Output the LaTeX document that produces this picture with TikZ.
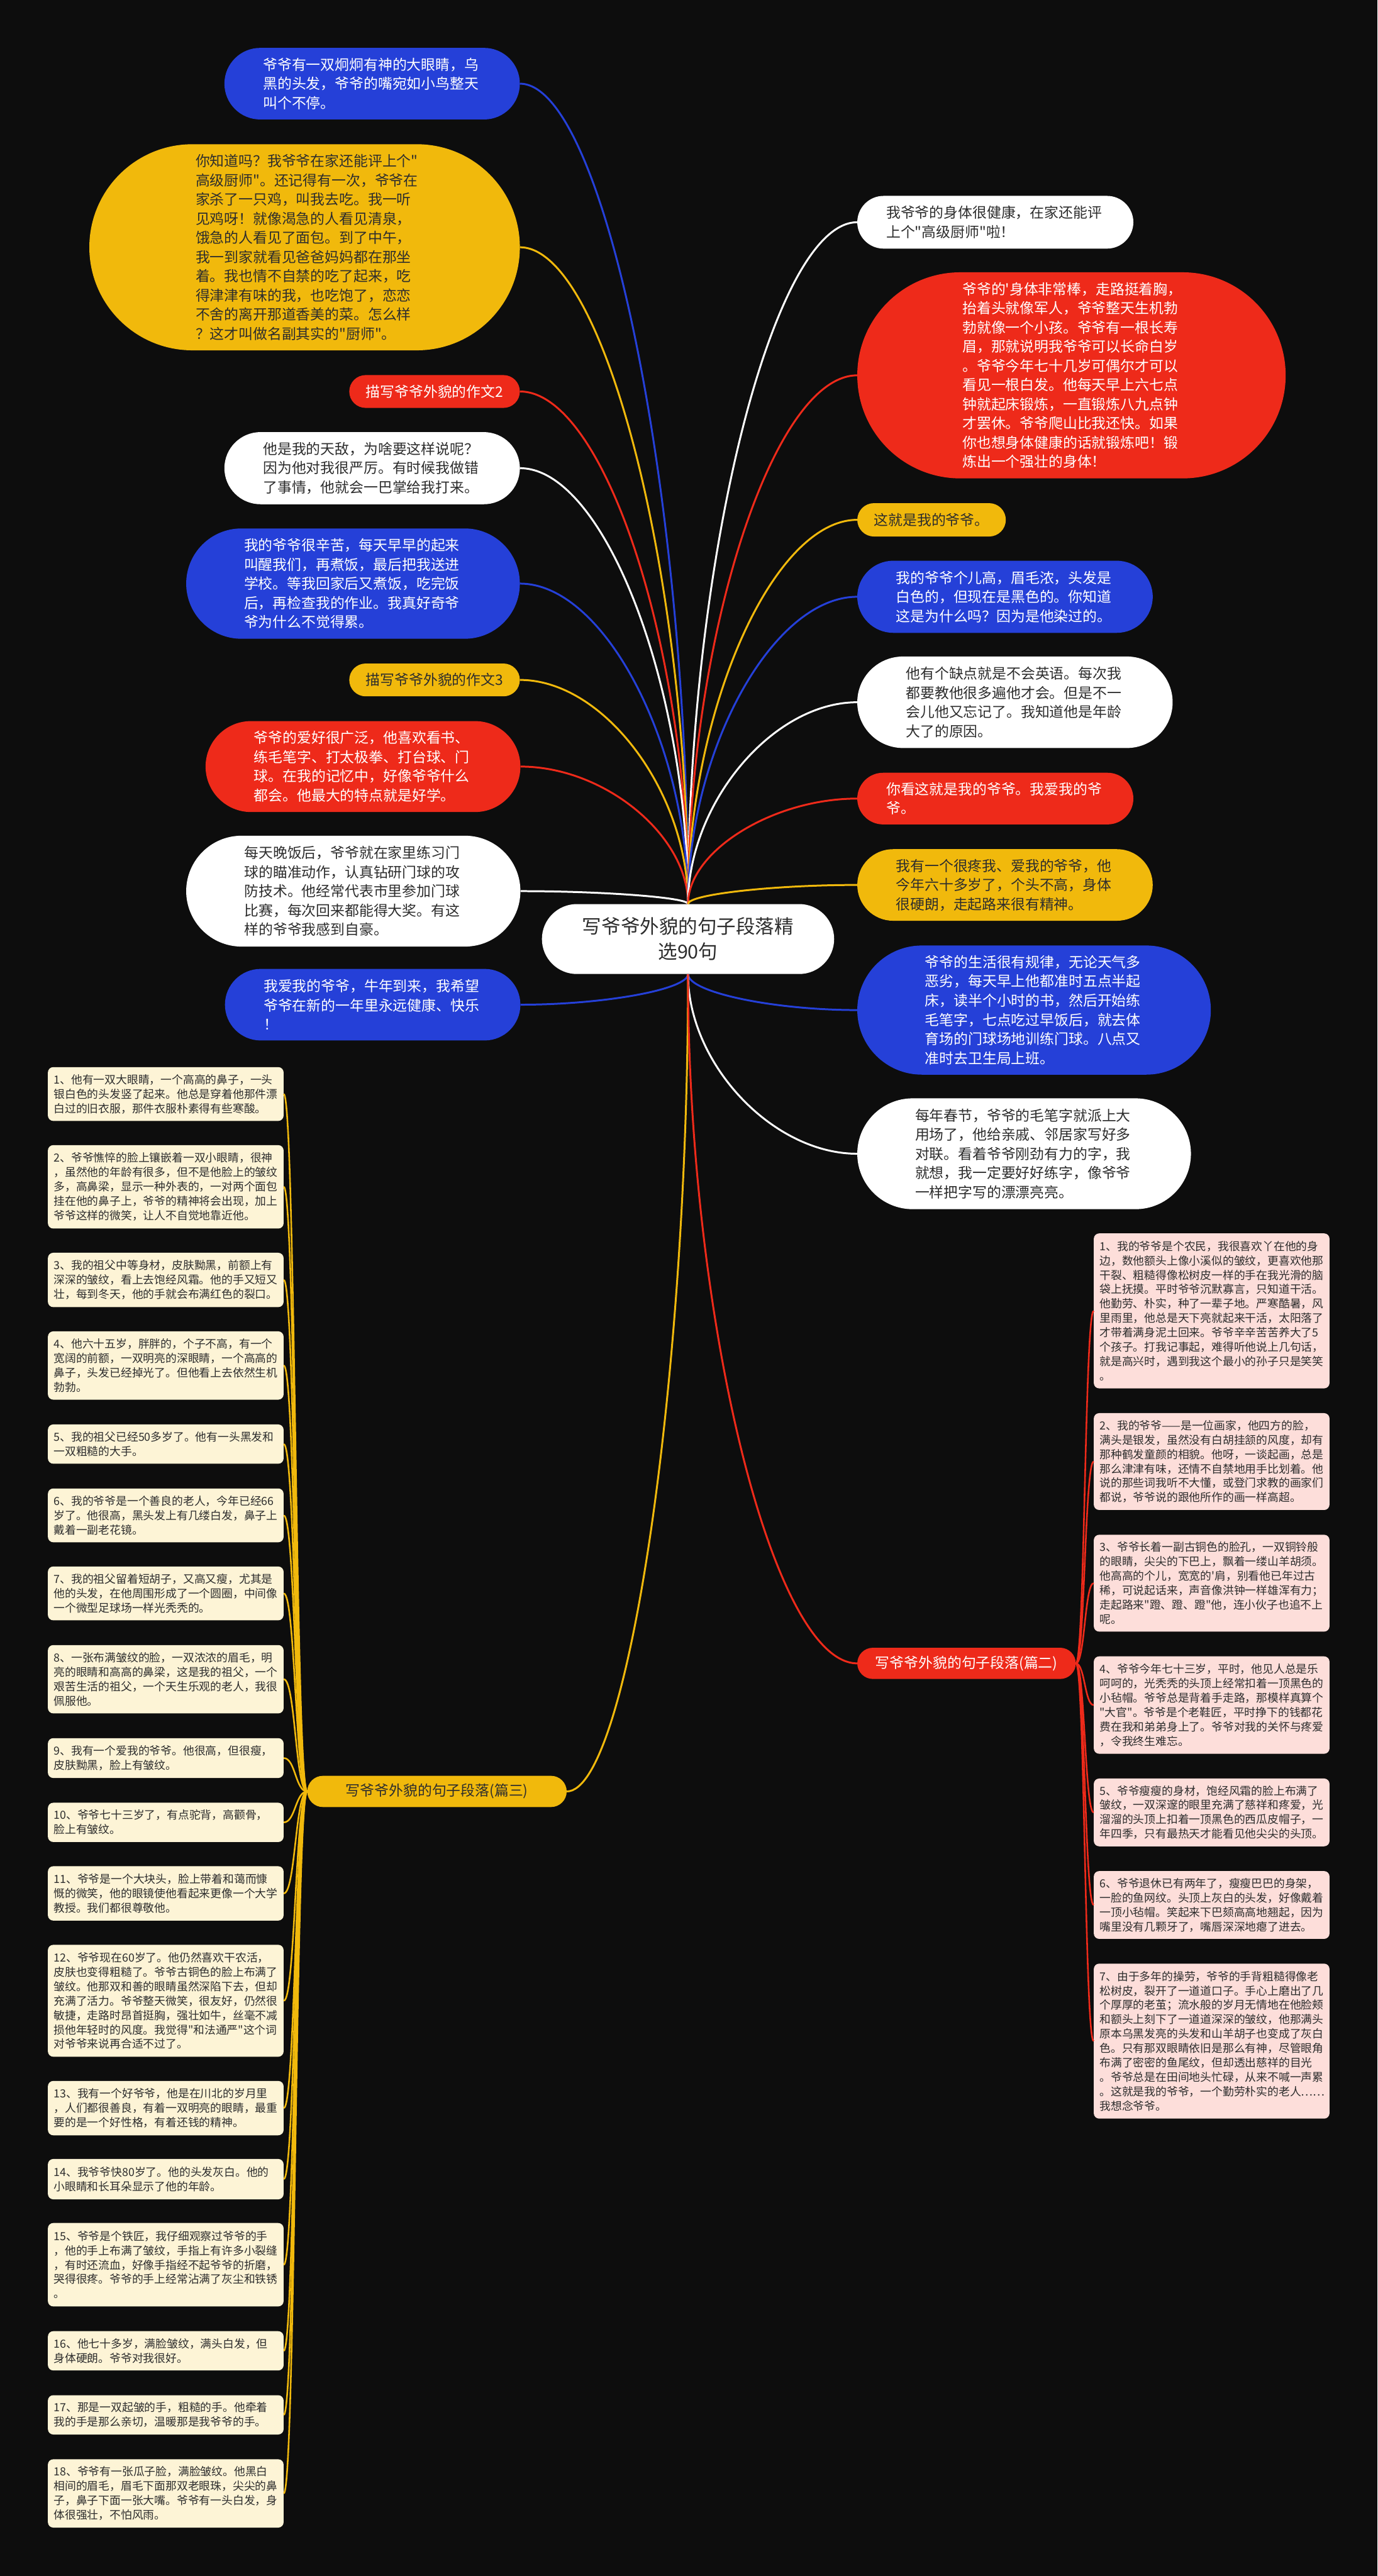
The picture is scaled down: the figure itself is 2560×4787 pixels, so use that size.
\documentclass[tikz,border=0pt]{standalone}
\usepackage{fontspec}
\setmainfont{Noto Sans CJK SC}[Ligatures=TeXOff]
\usetikzlibrary{calc}

\definecolor{mmbg}{RGB}{13,13,13}
\definecolor{mmblue}{RGB}{37,64,216}
\definecolor{mmred}{RGB}{238,42,26}
\definecolor{mmyellow}{RGB}{241,185,12}
\definecolor{mmink}{RGB}{45,45,45}
\definecolor{mmcream}{RGB}{253,244,214}
\definecolor{mmpink}{RGB}{253,222,218}

\tikzset{
  bubble/.style={rectangle, inner sep=0pt, align=left, font=\fontsize{26.7}{35.7}\selectfont},
  pillsize/.style 2 args={minimum width=#1, minimum height=#2, rounded corners=0.5*#2},
  textblock/.style={text width=405},
  bluebubble/.style={bubble, fill=mmblue, text=white},
  redbubble/.style={bubble, fill=mmred, text=white},
  yellowbubble/.style={bubble, fill=mmyellow, text=mmink},
  whitebubble/.style={bubble, fill=white, text=mmink},
  item/.style={rectangle, rounded corners=10pt, inner xsep=11pt, inner ysep=0pt, text width=416, align=left, text=mmink, font=\fontsize{20.8}{26.8}\selectfont},
  leftitem/.style={item, fill=mmcream},
  rightitem/.style={item, fill=mmpink},
  link/.style={line width=3.5pt},
  branch/.style={to path={.. controls ($(\tikztostart)!0.5!(\tikztostart |- \tikztotarget)$) and ($(\tikztotarget)!0.5!(\tikztotarget -| \tikztostart)$) .. (\tikztotarget)}},
  elbow/.style={to path={.. controls ($(\tikztostart)!0.5!(\tikztotarget |- \tikztostart)$) and ($(\tikztotarget)!0.5!(\tikztostart |- \tikztotarget)$) .. (\tikztotarget)}}
}

\begin{document}
\begin{tikzpicture}[x=1pt, y=-1pt]
    % Background
    \useasboundingbox (0,0) rectangle (2560,4787);
    \fill[mmbg] (0,0) rectangle (2560,4787);

    % Title
    \node[whitebubble, pillsize={543}{130}, align=center, font=\fontsize{35.7}{47}\selectfont] (root) at (1278.5,1745) {写爷爷外貌的句子段落精\\选90句};

    % Left branches
    \node[bluebubble, textblock, pillsize={549}{133}] (l1) at (691.5,155.5) {爷爷有一双炯炯有神的大眼睛，乌\\黑的头发，爷爷的嘴宛如小鸟整天\\叫个不停。};
    \node[yellowbubble, textblock, pillsize={800}{383}] (l2) at (566,459.5) {你知道吗？我爷爷在家还能评上个"\\高级厨师"。还记得有一次，爷爷在\\家杀了一只鸡，叫我去吃。我一听\\见鸡呀！就像渴急的人看见清泉，\\饿急的人看见了面包。到了中午，\\我一到家就看见爸爸妈妈都在那坐\\着。我也情不自禁的吃了起来，吃\\得津津有味的我，也吃饱了，恋恋\\不舍的离开那道香美的菜。怎么样\\？这才叫做名副其实的"厨师"。};
    \node[redbubble, pillsize={317}{61}] (l3) at (807.5,727.5) {描写爷爷外貌的作文2};
    \node[whitebubble, textblock, pillsize={549}{134}] (l4) at (691.5,870) {他是我的天敌，为啥要这样说呢？\\因为他对我很严厉。有时候我做错\\了事情，他就会一巴掌给我打来。};
    \node[bluebubble, textblock, pillsize={620}{205}] (l5) at (656,1084.5) {我的爷爷很辛苦，每天早早的起来\\叫醒我们，再煮饭，最后把我送进\\学校。等我回家后又煮饭，吃完饭\\后，再检查我的作业。我真好奇爷\\爷为什么不觉得累。};
    \node[yellowbubble, pillsize={317}{61}] (l6) at (807.5,1263.5) {描写爷爷外貌的作文3};
    \node[redbubble, textblock, pillsize={585}{169}] (l7) at (674.5,1424.5) {爷爷的爱好很广泛，他喜欢看书、\\练毛笔字、打太极拳、打台球、门\\球。在我的记忆中，好像爷爷什么\\都会。他最大的特点就是好学。};
    \node[whitebubble, textblock, pillsize={621}{206}] (l8) at (656.5,1656) {每天晚饭后，爷爷就在家里练习门\\球的瞄准动作，认真钻研门球的攻\\防技术。他经常代表市里参加门球\\比赛，每次回来都能得大奖。有这\\样的爷爷我感到自豪。};
    \node[bluebubble, textblock, pillsize={549}{133}] (l9) at (692.5,1867) {我爱我的爷爷，牛年到来，我希望\\爷爷在新的一年里永远健康、快乐\\！};

    % Right branches
    \node[whitebubble, textblock, pillsize={513}{98}] (r1) at (1849.5,413) {我爷爷的身体很健康，在家还能评\\上个"高级厨师"啦！};
    \node[redbubble, textblock, pillsize={796}{383}] (r2) at (1991,697.5) {爷爷的'身体非常棒，走路挺着胸，\\抬着头就像军人，爷爷整天生机勃\\勃就像一个小孩。爷爷有一根长寿\\眉，那就说明我爷爷可以长命白岁\\。爷爷今年七十几岁可偶尔才可以\\看见一根白发。他每天早上六七点\\钟就起床锻炼，一直锻炼八九点钟\\才罢休。爷爷爬山比我还快。如果\\你也想身体健康的话就锻炼吧！锻\\炼出一个强壮的身体！};
    \node[yellowbubble, pillsize={276}{62}] (r3) at (1731,966) {这就是我的爷爷。};
    \node[bluebubble, textblock, pillsize={549}{134}] (r4) at (1867.5,1109) {我的爷爷个儿高，眉毛浓，头发是\\白色的，但现在是黑色的。你知道\\这是为什么吗？因为是他染过的。};
    \node[whitebubble, textblock, pillsize={586}{170}] (r5) at (1886,1305) {他有个缺点就是不会英语。每次我\\都要教他很多遍他才会。但是不一\\会儿他又忘记了。我知道他是年龄\\大了的原因。};
    \node[redbubble, textblock, pillsize={513}{96}] (r6) at (1849.5,1484) {你看这就是我的爷爷。我爱我的爷\\爷。};
    \node[yellowbubble, textblock, pillsize={549}{133}] (r7) at (1867.5,1644.5) {我有一个很疼我、爱我的爷爷，他\\今年六十多岁了，个头不高，身体\\很硬朗，走起路来很有精神。};
    \node[bluebubble, textblock, pillsize={657}{240}] (r8) at (1921.5,1877) {爷爷的生活很有规律，无论天气多\\恶劣，每天早上他都准时五点半起\\床，读半个小时的书，然后开始练\\毛笔字，七点吃过早饭后，就去体\\育场的门球场地训练门球。八点又\\准时去卫生局上班。};
    \node[whitebubble, textblock, pillsize={620}{206}] (r9) at (1903,2144) {每年春节，爷爷的毛笔字就派上大\\用场了，他给亲戚、邻居家写好多\\对联。看着爷爷刚劲有力的字，我\\就想，我一定要好好练字，像爷爷\\一样把字写的漂漂亮亮。};

    % Two groups of sentences
    \node[redbubble, pillsize={406}{58}] (p2) at (1796,3091) {写爷爷外貌的句子段落(篇二)};
    \node[yellowbubble, pillsize={482}{58}] (p3) at (812,3329) {写爷爷外貌的句子段落(篇三)};

    % Group three, left column
    \node[leftitem, minimum height=100] (s1) at (308,2033) {1、他有一双大眼睛，一个高高的鼻子，一头\\银白色的头发竖了起来。他总是穿着他那件漂\\白过的旧衣服，那件衣服朴素得有些寒酸。};
    \node[leftitem, minimum height=155] (s2) at (308,2205.5) {2、爷爷憔悴的脸上镶嵌着一双小眼睛，很神\\，虽然他的年龄有很多，但不是他脸上的皱纹\\多，高鼻梁，显示一种外表的，一对两个面包\\挂在他的鼻子上，爷爷的精神将会出现，加上\\爷爷这样的微笑，让人不自觉地靠近他。};
    \node[leftitem, minimum height=101] (s3) at (308,2378.5) {3、我的祖父中等身材，皮肤黝黑，前额上有\\深深的皱纹，看上去饱经风霜。他的手又短又\\壮，每到冬天，他的手就会布满红色的裂口。};
    \node[leftitem, minimum height=127] (s4) at (308,2537.5) {4、他六十五岁，胖胖的，个子不高，有一个\\宽阔的前额，一双明亮的深眼睛，一个高高的\\鼻子，头发已经掉光了。但他看上去依然生机\\勃勃。};
    \node[leftitem, minimum height=73] (s5) at (308,2683.5) {5、我的祖父已经50多岁了。他有一头黑发和\\一双粗糙的大手。};
    \node[leftitem, minimum height=100] (s6) at (308,2816) {6、我的爷爷是一个善良的老人，今年已经66\\岁了。他很高，黑头发上有几缕白发，鼻子上\\戴着一副老花镜。};
    \node[leftitem, minimum height=100] (s7) at (308,2961) {7、我的祖父留着短胡子，又高又瘦，尤其是\\他的头发，在他周围形成了一个圆圈，中间像\\一个微型足球场一样光秃秃的。};
    \node[leftitem, minimum height=127] (s8) at (308,3120.5) {8、一张布满皱纹的脸，一双浓浓的眉毛，明\\亮的眼睛和高高的鼻梁，这是我的祖父，一个\\艰苦生活的祖父，一个天生乐观的老人，我很\\佩服他。};
    \node[leftitem, minimum height=74] (s9) at (308,3267) {9、我有一个爱我的爷爷。他很高，但很瘦，\\皮肤黝黑，脸上有皱纹。};
    \node[leftitem, minimum height=73] (s10) at (308,3386.5) {10、爷爷七十三岁了，有点驼背，高颧骨，\\脸上有皱纹。};
    \node[leftitem, minimum height=101] (s11) at (308,3518.5) {11、爷爷是一个大块头，脸上带着和蔼而慷\\慨的微笑，他的眼镜使他看起来更像一个大学\\教授。我们都很尊敬他。};
    \node[leftitem, minimum height=208] (s12) at (308,3718) {12、爷爷现在60岁了。他仍然喜欢干农活，\\皮肤也变得粗糙了。爷爷古铜色的脸上布满了\\皱纹。他那双和善的眼睛虽然深陷下去，但却\\充满了活力。爷爷整天微笑，很友好，仍然很\\敏捷，走路时昂首挺胸，强壮如牛，丝毫不减\\损他年轻时的风度。我觉得"和法通严"这个词\\对爷爷来说再合适不过了。};
    \node[leftitem, minimum height=101] (s13) at (308,3917.5) {13、我有一个好爷爷，他是在川北的岁月里\\，人们都很善良，有着一双明亮的眼睛，最重\\要的是一个好性格，有着还钱的精神。};
    \node[leftitem, minimum height=75] (s14) at (308,4049.5) {14、我爷爷快80岁了。他的头发灰白。他的\\小眼睛和长耳朵显示了他的年龄。};
    \node[leftitem, minimum height=155] (s15) at (308,4208.5) {15、爷爷是个铁匠，我仔细观察过爷爷的手\\，他的手上布满了皱纹，手指上有许多小裂缝\\，有时还流血，好像手指经不起爷爷的折磨，\\哭得很疼。爷爷的手上经常沾满了灰尘和铁锈\\。};
    \node[leftitem, minimum height=73] (s16) at (308,4368.5) {16、他七十多岁，满脸皱纹，满头白发，但\\身体硬朗。爷爷对我很好。};
    \node[leftitem, minimum height=73] (s17) at (308,4487.5) {17、那是一双起皱的手，粗糙的手。他牵着\\我的手是那么亲切，温暖那是我爷爷的手。};
    \node[leftitem, minimum height=127] (s18) at (308,4633.5) {18、爷爷有一张瓜子脸，满脸皱纹。他黑白\\相间的眉毛，眉毛下面那双老眼珠，尖尖的鼻\\子，鼻子下面一张大嘴。爷爷有一头白发，身\\体很强壮，不怕风雨。};

    % Group two, right column
    \node[rightitem, minimum height=288] (t1) at (2251.5,2436) {1、我的爷爷是个农民，我很喜欢丫在他的身\\边，数他额头上像小溪似的皱纹，更喜欢他那\\干裂、粗糙得像松树皮一样的手在我光滑的脑\\袋上抚摸。平时爷爷沉默寡言，只知道干活。\\他勤劳、朴实，种了一辈子地。严寒酷暑，风\\里雨里，他总是天下亮就起来干活，太阳落了\\才带着满身泥土回来。爷爷辛辛苦苦养大了5\\个孩子。打我记事起，难得听他说上几句话，\\就是高兴时，遇到我这个最小的孙子只是笑笑\\。};
    \node[rightitem, minimum height=180] (t2) at (2251.5,2716) {2、我的爷爷——是一位画家，他四方的脸，\\满头是银发，虽然没有白胡挂颔的风度，却有\\那种鹤发童颜的相貌。他呀，一谈起画，总是\\那么津津有味，还情不自禁地用手比划着。他\\说的那些词我听不大懂，或登门求教的画家们\\都说，爷爷说的跟他所作的画一样高超。};
    \node[rightitem, minimum height=180] (t3) at (2251.5,2942) {3、爷爷长着一副古铜色的脸孔，一双铜铃般\\的眼睛，尖尖的下巴上，飘着一缕山羊胡须。\\他高高的个儿，宽宽的'肩，别看他已年过古\\稀，可说起话来，声音像洪钟一样雄浑有力；\\走起路来"蹬、蹬、蹬"他，连小伙子也追不上\\呢。};
    \node[rightitem, minimum height=181] (t4) at (2251.5,3168.5) {4、爷爷今年七十三岁，平时，他见人总是乐\\呵呵的，光秃秃的头顶上经常扣着一顶黑色的\\小毡帽。爷爷总是背着手走路，那模样真算个\\"大官"。爷爷是个老鞋匠，平时挣下的钱都花\\费在我和弟弟身上了。爷爷对我的关怀与疼爱\\，令我终生难忘。};
    \node[rightitem, minimum height=126] (t5) at (2251.5,3368) {5、爷爷瘦瘦的身材，饱经风霜的脸上布满了\\皱纹，一双深邃的眼里充满了慈祥和疼爱，光\\溜溜的头顶上扣着一顶黑色的西瓜皮帽子，一\\年四季，只有最热天才能看见他尖尖的头顶。};
    \node[rightitem, minimum height=126] (t6) at (2251.5,3540) {6、爷爷退休已有两年了，瘦瘦巴巴的身架，\\一脸的鱼网纹。头顶上灰白的头发，好像戴着\\一顶小毡帽。笑起来下巴颏高高地翘起，因为\\嘴里没有几颗牙了，嘴唇深深地瘪了进去。};
    \node[rightitem, minimum height=288] (t7) at (2251.5,3793) {7、由于多年的操劳，爷爷的手背粗糙得像老\\松树皮，裂开了一道道口子。手心上磨出了几\\个厚厚的老茧；流水般的岁月无情地在他脸颊\\和额头上刻下了一道道深深的皱纹，他那满头\\原本乌黑发亮的头发和山羊胡子也变成了灰白\\色。只有那双眼睛依旧是那么有神，尽管眼角\\布满了密密的鱼尾纹，但却透出慈祥的目光\\。爷爷总是在田间地头忙碌，从来不喊一声累\\。这就是我的爷爷，一个勤劳朴实的老人……\\我想念爷爷。};

    % Branches from the title
    \foreach \n/\c in {l1/mmblue, l2/mmyellow, l3/mmred, l4/white, l5/mmblue, l6/mmyellow, l7/mmred, l8/white}
        \draw[link, \c] (root.north) to[branch] (\n.east);
    \foreach \n/\c in {r1/white, r2/mmred, r3/mmyellow, r4/mmblue, r5/white, r6/mmred, r7/mmyellow}
        \draw[link, \c] (root.north) to[branch] (\n.west);
    \draw[link, mmblue] (root.south) to[branch] (l9.east);
    \draw[link, mmyellow] (root.south) to[branch] (p3.east);
    \draw[link, mmblue] (root.south) to[branch] (r8.west);
    \draw[link, white] (root.south) to[branch] (r9.west);
    \draw[link, mmred] (root.south) to[branch] (p2.west);

    % Sentence lists
    \foreach \i in {1,...,18}
        \draw[link, mmyellow, line width=3pt] (p3.west) to[elbow] (s\i.east);
    \foreach \i in {1,...,7}
        \draw[link, mmred, line width=3pt] (p2.east) to[elbow] (t\i.west);
\end{tikzpicture}
\end{document}
